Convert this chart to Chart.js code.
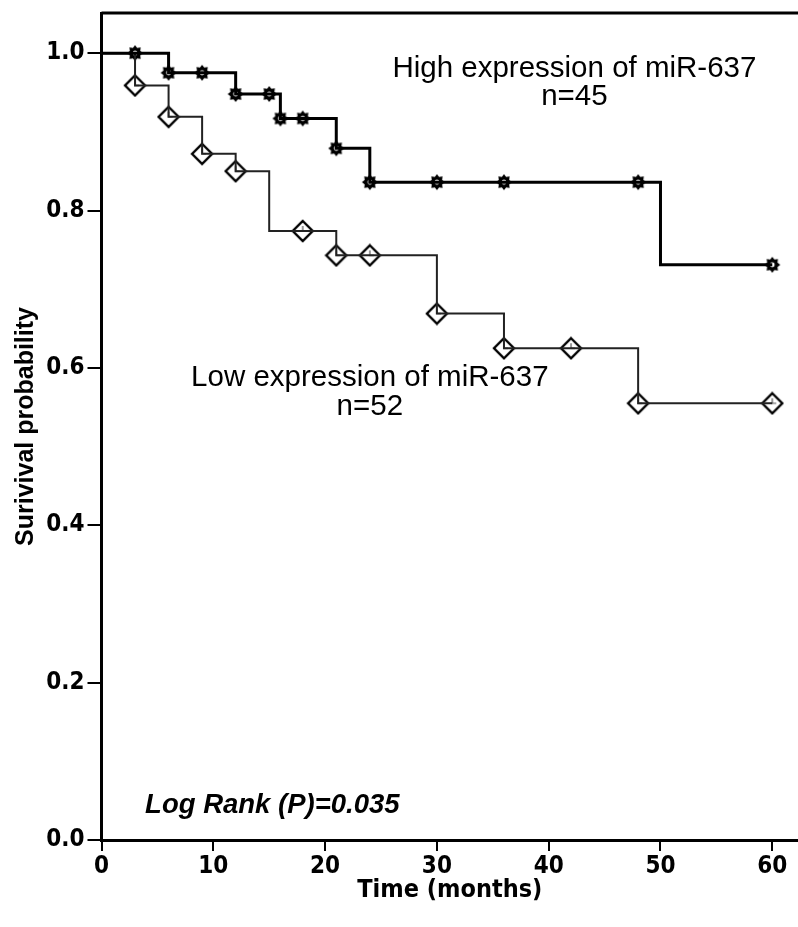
<!DOCTYPE html>
<html>
<head>
<meta charset="utf-8">
<script src="https://cdn.jsdelivr.net/npm/chart.js@4/dist/chart.umd.min.js"></script>
<style>
  html, body { margin: 0; padding: 0; background: #fff; }
  #wrap { width: 798px; height: 927px; }
</style>
</head>
<body>
<div id="wrap"><canvas id="chart1" width="798" height="927"></canvas></div>
<script>
// Kaplan-Meier steps: time where the curve drops and level after the drop
const highTimes = [0, 6, 12, 16, 21, 24, 50, 60]
const highSurv = [1.0, 0.975, 0.948, 0.917, 0.879, 0.836, 0.731, 0.731]
const lowTimes = [0, 3, 6, 9, 12, 15, 21, 30, 36, 48, 60]
const lowSurv = [1.0, 0.959, 0.919, 0.872, 0.850, 0.774, 0.743, 0.669, 0.625, 0.555, 0.555]

// censored observations
const highCensorTimes = [3, 6, 9, 12, 15, 16, 18, 21, 24, 30, 36, 48, 60]
const highCensorSurv = [1.0, 0.975, 0.975, 0.948, 0.948, 0.917, 0.917, 0.879, 0.836, 0.836, 0.836, 0.836, 0.731]
const lowCensorTimes = [3, 6, 9, 12, 18, 21, 24, 30, 36, 42, 48, 60]
const lowCensorSurv = [0.959, 0.919, 0.872, 0.850, 0.774, 0.743, 0.743, 0.669, 0.625, 0.625, 0.555, 0.555]

const xTicks = [0, 10, 20, 30, 40, 50, 60]
const yTicks = [0.0, 0.2, 0.4, 0.6, 0.8, 1.0]

function pairs(xs, ys) {
    return xs.map((x, i) => ({ x: x, y: ys[i] }))
}

// marker images
function starMarker() {
    const c = document.createElement("canvas")
    c.width = 18; c.height = 18
    const g = c.getContext("2d")
    g.translate(9, 9)
    g.beginPath()
    for (let i = 0; i < 16; i++) {
        const r = i % 2 === 0 ? 8 : 5.6
        const a = i * Math.PI / 8 - Math.PI / 2
        g.lineTo(r * Math.cos(a), r * Math.sin(a))
    }
    g.closePath()
    g.fillStyle = "#000"
    g.fill()
    g.beginPath()
    g.arc(0, 0, 2.4, 0, Math.PI * 2)
    g.fillStyle = "#fff"
    g.fill()
    return c
}

function diamondMarker() {
    const c = document.createElement("canvas")
    c.width = 24; c.height = 24
    const g = c.getContext("2d")
    g.translate(12, 12)
    g.beginPath()
    g.moveTo(0, -10); g.lineTo(10, 0); g.lineTo(0, 10); g.lineTo(-10, 0)
    g.closePath()
    g.fillStyle = "#fff"
    g.fill()
    g.lineWidth = 2.4
    g.strokeStyle = "#000"
    g.stroke()
    g.beginPath()
    g.moveTo(0, -5); g.lineTo(0, 0); g.lineTo(4, 0)
    g.lineWidth = 1.2
    g.strokeStyle = "#555"
    g.stroke()
    return c
}

const labelFont = "'Liberation Sans', Arial, sans-serif"
const narrowFont = "'Liberation Sans Narrow', 'Arial Narrow', 'DejaVu Sans Condensed', sans-serif"

const annotations = {
    id: "annotations",
    afterDraw(chart) {
        const ctx = chart.ctx
        const xs = chart.scales.x, ys = chart.scales.y
        const area = chart.chartArea
        ctx.save()
        // top frame line
        ctx.beginPath()
        ctx.moveTo(area.left, area.top)
        ctx.lineTo(area.right, area.top)
        ctx.lineWidth = 3
        ctx.strokeStyle = "#000"
        ctx.stroke()

        ctx.fillStyle = "#000"
        ctx.textAlign = "center"
        ctx.textBaseline = "alphabetic"
        ctx.font = "29.5px " + labelFont
        ctx.fillText("High expression of miR-637", xs.getPixelForValue(42.3), ys.getPixelForValue(0.970))
        ctx.fillText("n=45", xs.getPixelForValue(42.3), ys.getPixelForValue(0.934))
        ctx.fillText("Low expression of miR-637", xs.getPixelForValue(24.0), ys.getPixelForValue(0.577))
        ctx.fillText("n=52", xs.getPixelForValue(24.0), ys.getPixelForValue(0.540))

        ctx.textAlign = "left"
        ctx.font = "italic bold 27.5px " + labelFont
        ctx.fillText("Log Rank (P)=0.035", xs.getPixelForValue(3.9), ys.getPixelForValue(0.034))
        ctx.restore()
    }
}

const chart = {
    "type": "scatter",
    "data": {
        "datasets": [
            {
                "label": "High expression of miR-637",
                "data": pairs(highTimes, highSurv),
                "showLine": true,
                "stepped": "before",
                "borderColor": "#000",
                "borderWidth": 3,
                "pointRadius": 0,
                "pointHoverRadius": 0
            },
            {
                "label": "Low expression of miR-637",
                "data": pairs(lowTimes, lowSurv),
                "showLine": true,
                "stepped": "before",
                "borderColor": "#222",
                "borderWidth": 2,
                "pointRadius": 0,
                "pointHoverRadius": 0
            },
            {
                "label": "Low censored",
                "data": pairs(lowCensorTimes, lowCensorSurv),
                "showLine": false,
                "pointStyle": diamondMarker(),
                "pointRadius": 10
            },
            {
                "label": "High censored",
                "data": pairs(highCensorTimes, highCensorSurv),
                "showLine": false,
                "pointStyle": starMarker(),
                "pointRadius": 9
            }
        ]
    },
    "options": {
        "responsive": false,
        "animation": false,
        "clip": false,
        "layout": {
            "autoPadding": false,
            "padding": { "top": 13, "right": 0, "left": 0, "bottom": 0 }
        },
        "scales": {
            "x": {
                "type": "linear",
                "min": 0,
                "max": 62.3,
                "afterFit": (scale) => {
                    scale.height = 87
                    scale.paddingLeft = 0
                    scale.paddingRight = 0
                },
                "afterBuildTicks": (scale) => { scale.ticks = xTicks.map(v => ({ value: v })) },
                "border": { "display": true, "color": "#000", "width": 3 },
                "grid": { "drawOnChartArea": false, "color": "#000", "lineWidth": 2, "tickLength": 11 },
                "ticks": {
                    "color": "#000",
                    "padding": 1,
                    "maxRotation": 0,
                    "font": { "family": narrowFont, "size": 24, "weight": "bold" }
                },
                "title": {
                    "display": true,
                    "text": "Time (months)",
                    "color": "#000",
                    "padding": { "top": 2, "bottom": 22 },
                    "font": { "family": narrowFont, "size": 25, "weight": "bold" }
                }
            },
            "y": {
                "type": "linear",
                "min": 0,
                "max": 1.051,
                "afterFit": (scale) => {
                    scale.width = 101.5
                    scale.paddingTop = 0
                    scale.paddingBottom = 0
                },
                "afterBuildTicks": (scale) => { scale.ticks = yTicks.map(v => ({ value: v })) },
                "border": { "display": true, "color": "#000", "width": 3 },
                "grid": { "drawOnChartArea": false, "color": "#000", "lineWidth": 2, "tickLength": 14 },
                "ticks": {
                    "color": "#000",
                    "padding": 3,
                    "font": { "family": narrowFont, "size": 24, "weight": "bold" },
                    "callback": (v) => v.toFixed(1)
                },
                "title": {
                    "display": true,
                    "text": "Surivival probability",
                    "color": "#000",
                    "padding": { "top": 11, "bottom": 0 },
                    "font": { "family": labelFont, "size": 25, "weight": "bold" }
                }
            }
        },
        "plugins": {
            "legend": { "display": false },
            "tooltip": { "enabled": false }
        }
    },
    "plugins": [annotations]
}

const ctx = document.getElementById("chart1").getContext("2d")
new Chart(ctx, chart)
</script>
</body>
</html>
